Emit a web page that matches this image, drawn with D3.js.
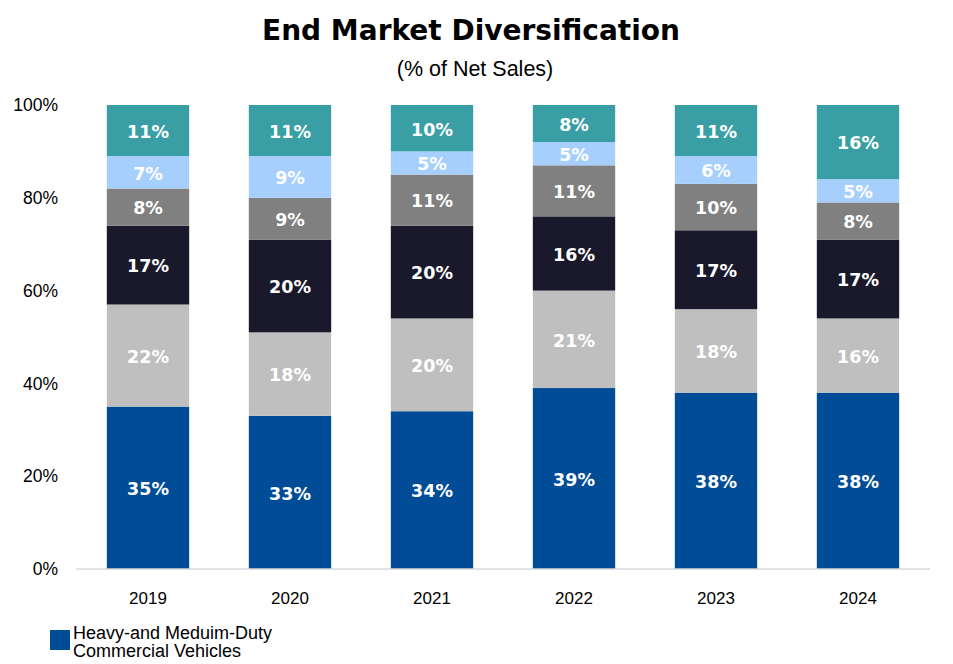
<!DOCTYPE html>
<html>
  <head>
    <meta charset="utf-8" />
    <title>End Market Diversification</title>
    <script src="https://d3js.org/d3.v7.min.js"></script>
    <style>
      body { margin: 0; background: #fff; }
    </style>
  </head>
  <body>
    <svg id="chart" width="953" height="664"></svg>

    <script>
      var years = ["2019", "2020", "2021", "2022", "2023", "2024"];

      // bottom to top
      var heavyMedium = [35, 33, 34, 39, 38, 38];
      var segment2 = [22, 18, 20, 21, 18, 16];
      var segment3 = [17, 20, 20, 16, 17, 17];
      var segment4 = [8, 9, 11, 11, 10, 8];
      var segment5 = [7, 9, 5, 5, 6, 5];
      var segment6 = [11, 11, 10, 8, 11, 16];

      var seriesNames = ["Heavy-and Meduim-Duty Commercial Vehicles", "s2", "s3", "s4", "s5", "s6"];
      var seriesValues = [heavyMedium, segment2, segment3, segment4, segment5, segment6];
      var colors = ["#004c97", "#bfbfbf", "#19192b", "#808080", "#a6cffe", "#3a9ea5"];

      var yTicks = [0, 20, 40, 60, 80, 100];

      var rows = years.map(function (y, i) {
        var r = { year: y };
        seriesNames.forEach(function (s, j) {
          r[s] = seriesValues[j][i];
        });
        return r;
      });

      var svg = d3.select("#chart");

      var x = d3.scaleBand().domain(years).range([77, 929]).paddingInner(0.42).paddingOuter(0.21);
      var y = d3.scaleLinear().domain([0, 100]).range([569, 105]);

      var stack = d3.stack().keys(seriesNames)(rows);

      // title
      svg.append("text")
        .attr("x", 471).attr("y", 40)
        .attr("text-anchor", "middle")
        .style("font-family", "DejaVu Sans")
        .style("font-weight", "bold")
        .style("font-size", "28px")
        .text("End Market Diversification");

      svg.append("text")
        .attr("x", 475).attr("y", 76)
        .attr("text-anchor", "middle")
        .style("font-family", "Liberation Sans")
        .style("font-size", "21.5px")
        .text("(% of Net Sales)");

      // y tick labels
      svg.append("g")
        .selectAll("text")
        .data(yTicks)
        .enter()
        .append("text")
        .attr("x", 58)
        .attr("y", function (d) { return y(d); })
        .attr("dy", "0.35em")
        .attr("text-anchor", "end")
        .style("font-family", "Liberation Sans")
        .style("font-size", "17.5px")
        .text(function (d) { return d + "%"; });

      // bars
      var groups = svg.append("g")
        .selectAll("g")
        .data(stack)
        .enter()
        .append("g")
        .attr("fill", function (d, i) { return colors[i]; });

      groups.selectAll("rect")
        .data(function (d) { return d; })
        .enter()
        .append("rect")
        .attr("x", function (d) { return x(d.data.year); })
        .attr("y", function (d) { return y(d[1]); })
        .attr("width", x.bandwidth())
        .attr("height", function (d) { return y(d[0]) - y(d[1]); });

      groups.selectAll("text")
        .data(function (d) { return d; })
        .enter()
        .append("text")
        .attr("x", function (d) { return x(d.data.year) + x.bandwidth() / 2; })
        .attr("y", function (d) { return (y(d[0]) + y(d[1])) / 2; })
        .attr("dy", "0.42em")
        .attr("text-anchor", "middle")
        .attr("fill", "#fff")
        .style("font-family", "DejaVu Sans")
        .style("font-weight", "bold")
        .style("font-size", "17.5px")
        .text(function (d) { return (d[1] - d[0]) + "%"; });

      // baseline
      svg.append("line")
        .attr("x1", 76).attr("x2", 930)
        .attr("y1", y(0)).attr("y2", y(0))
        .style("stroke", "#d9d9d9")
        .style("stroke-width", 1.5);

      // x labels
      svg.append("g")
        .selectAll("text")
        .data(years)
        .enter()
        .append("text")
        .attr("x", function (d) { return x(d) + x.bandwidth() / 2; })
        .attr("y", 604)
        .attr("text-anchor", "middle")
        .style("font-family", "Liberation Sans")
        .style("font-size", "17px")
        .text(function (d) { return d; });

      // legend (only first entry visible)
      var legend = svg.append("g");
      legend.append("rect")
        .attr("x", 50).attr("y", 630)
        .attr("width", 20).attr("height", 20)
        .attr("fill", colors[0]);
      legend.append("text")
        .attr("x", 73).attr("y", 639)
        .style("font-family", "Liberation Sans")
        .style("font-size", "18px")
        .text("Heavy-and Meduim-Duty");
      legend.append("text")
        .attr("x", 73).attr("y", 657)
        .style("font-family", "Liberation Sans")
        .style("font-size", "18px")
        .text("Commercial Vehicles");
    </script>
  </body>
</html>
